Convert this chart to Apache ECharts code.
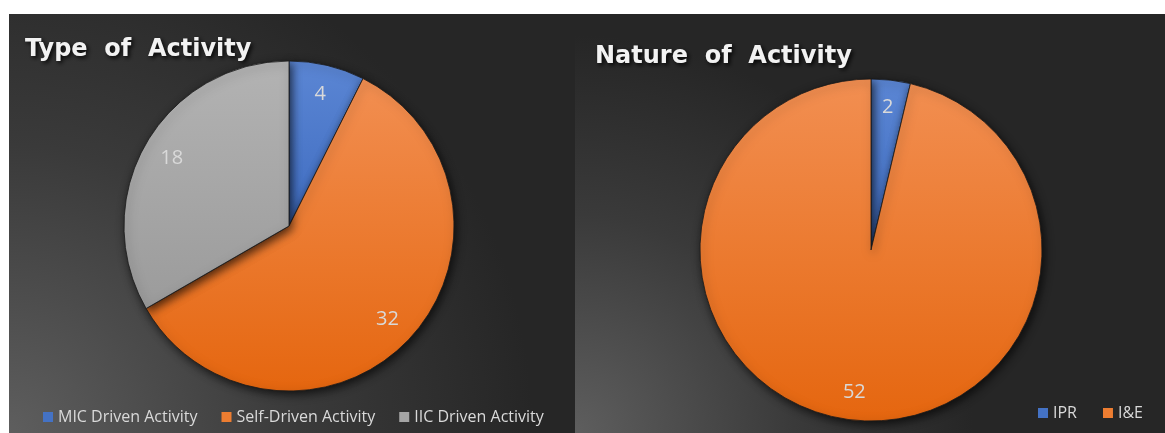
<!DOCTYPE html>
<html>
<head>
<meta charset="utf-8">
<script src="https://cdn.jsdelivr.net/npm/echarts@6/dist/echarts.min.js"></script>
<style>
html,body{margin:0;padding:0;background:#ffffff;}
#chart{width:1165px;height:433px;}
</style>
</head>
<body>
<div id="chart"></div>
<script>
// ---- data ----
const typeCategories = ['MIC Driven Activity', 'Self-Driven Activity', 'IIC Driven Activity'];
const typeValues = [4, 32, 18];
const natureCategories = ['IPR', 'I&E'];
const natureValues = [2, 52];
const titles = ['Type  of  Activity', 'Nature  of  Activity'];

// ---- styles ----
function grad(top, bottom) {
  return new echarts.graphic.LinearGradient(0, 0, 0, 1, [
    {offset: 0, color: top}, {offset: 1, color: bottom}
  ]);
}
const palette = {
  blue: {top: '#5b86d4', bottom: '#3f6cc0', legend: '#4472c4'},
  orange: {top: '#f28f52', bottom: '#e5660f', legend: '#ed7d31'},
  gray: {top: '#b3b3b3', bottom: '#9b9b9b', legend: '#a5a5a5'}
};
const typeColors = [palette.blue, palette.orange, palette.gray];
const natureColors = [palette.blue, palette.orange];

function pieData(cats, vals, cols) {
  return cats.map((c, i) => ({
    name: c, value: vals[i],
    itemStyle: {color: grad(cols[i].top, cols[i].bottom)}
  }));
}
function labelData(cats, vals) {
  return cats.map((c, i) => ({name: c, value: vals[i]}));
}

const panelGrad = (r) => ({
  type: 'radial', x: 0, y: 1, r: r,
  colorStops: [
    {offset: 0, color: '#5e5e5e'},
    {offset: 0.55, color: '#3a3a3a'},
    {offset: 1, color: '#262626'}
  ]
});

const labelFont = {color: '#d9d9d9', fontSize: 20, fontFamily: 'Open Sans'};
const titleStyle = {color: '#f2f2f2', fontSize: 24, fontWeight: 'bold', fontFamily: 'DejaVu Sans',
  textShadowColor: 'rgba(0,0,0,0.9)', textShadowBlur: 4, textShadowOffsetX: 2, textShadowOffsetY: 2};
const legendText = {color: '#d9d9d9', fontSize: 16, fontFamily: 'Open Sans'};

const chart = echarts.init(document.getElementById('chart'), null, {renderer: 'canvas'});
const option = {
  animation: false,
  backgroundColor: '#ffffff',
  graphic: [
    {type: 'rect', z: -10, shape: {x: 9, y: 14, width: 566, height: 419},
     style: {fill: panelGrad(1.25)}},
    {type: 'rect', z: -10, shape: {x: 575, y: 14, width: 590, height: 419},
     style: {fill: panelGrad(0.95)}}
  ],
  color: [palette.blue.legend, palette.orange.legend, palette.gray.legend],
  title: [
    {text: titles[0], left: 20, top: 33, textStyle: titleStyle},
    {text: titles[1], left: 590, top: 40, textStyle: titleStyle}
  ],
  legend: [
    {data: typeCategories.map((c, i) => ({name: c, itemStyle: {color: typeColors[i].legend, borderWidth: 0, shadowBlur: 0}})),
     left: 38, top: 404, icon: 'rect', itemWidth: 10, itemHeight: 10, itemGap: 24,
     textStyle: legendText},
    {data: natureCategories.map((c, i) => ({name: c, itemStyle: {color: natureColors[i].legend, borderWidth: 0, shadowBlur: 0}})),
     left: 1033, top: 400, icon: 'rect', itemWidth: 10, itemHeight: 10, itemGap: 26,
     textStyle: legendText}
  ],
  series: [
    {type: 'pie', center: [289, 226], radius: [0, 165], startAngle: 90, clockwise: true,
     legendHoverLink: false, label: {show: false}, labelLine: {show: false},
     itemStyle: {borderColor: '#1a1a1a', borderWidth: 0.8, shadowColor: 'rgba(0,0,0,0.7)', shadowBlur: 10, shadowOffsetX: 2, shadowOffsetY: 3},
     emphasis: {disabled: true},
     data: pieData(typeCategories, typeValues, typeColors)},
    {type: 'pie', center: [289, 226], radius: [100, 165], startAngle: 90, clockwise: true,
     silent: true, itemStyle: {color: 'rgba(0,0,0,0)'}, emphasis: {disabled: true},
     label: Object.assign({show: true, position: 'inside', formatter: '{c}'}, labelFont),
     labelLine: {show: false},
     data: labelData(typeCategories, typeValues)},
    {type: 'pie', center: [871, 250], radius: [0, 171], startAngle: 90, clockwise: true,
     label: {show: false}, labelLine: {show: false},
     itemStyle: {borderColor: '#1a1a1a', borderWidth: 0.8, shadowColor: 'rgba(0,0,0,0.7)', shadowBlur: 10, shadowOffsetX: 2, shadowOffsetY: 3},
     emphasis: {disabled: true},
     data: pieData(natureCategories, natureValues, natureColors)},
    {type: 'pie', center: [871, 250], radius: [110, 171], startAngle: 90, clockwise: true,
     silent: true, itemStyle: {color: 'rgba(0,0,0,0)'}, emphasis: {disabled: true},
     label: Object.assign({show: true, position: 'inside', formatter: '{c}'}, labelFont),
     labelLine: {show: false},
     data: labelData(natureCategories, natureValues)}
  ]
};
chart.setOption(option);
</script>
</body>
</html>
